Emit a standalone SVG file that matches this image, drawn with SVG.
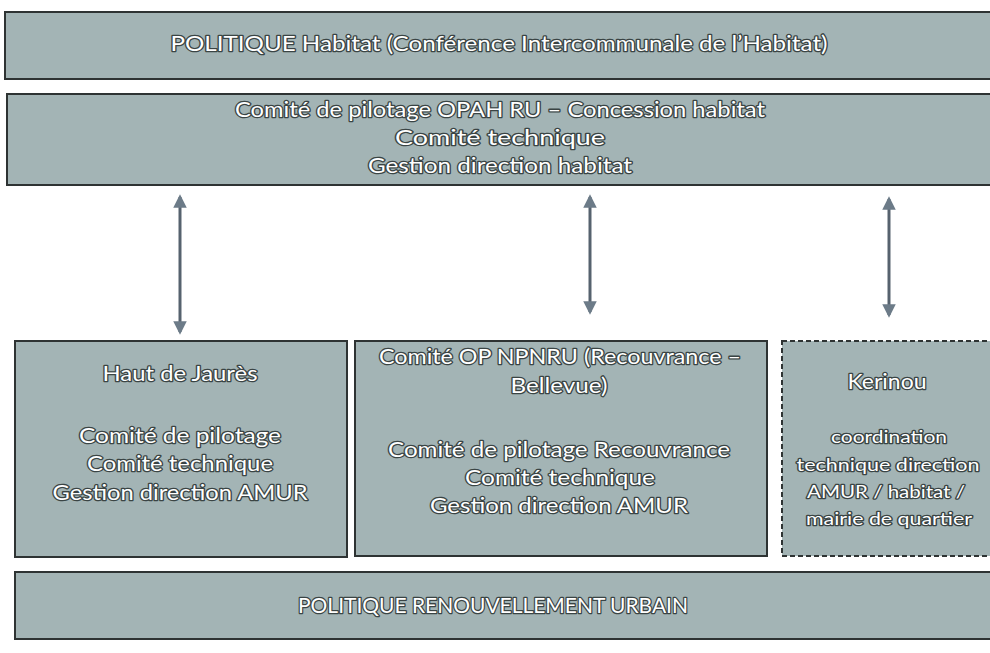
<svg xmlns="http://www.w3.org/2000/svg" width="990" height="653" viewBox="0 0 990 653">
<defs>
<style>
.box{fill:#a3b4b5;stroke:#2e3333;stroke-width:2}
.dash{stroke-dasharray:5 3}
.t{font-family:Lato,"Open Sans",sans-serif;fill:#ffffff;stroke:#3a4444;stroke-width:2.6;paint-order:stroke;stroke-linejoin:round;text-anchor:middle;font-size:22px}
.s{font-size:18px}
.arr{stroke:#56626e;stroke-width:3;fill:none;marker-start:url(#ah);marker-end:url(#ah)}
</style>
<marker id="ah" viewBox="0 0 10 10" refX="8" refY="5" markerWidth="4.5" markerHeight="4.5" orient="auto-start-reverse" markerUnits="strokeWidth">
<path d="M0,0 L10,5 L0,10 z" fill="#6c7b88"/>
</marker>
</defs>
<rect width="990" height="653" fill="#ffffff"/>
<g id="politique-habitat">
<rect class="box" x="5" y="12" width="990" height="67"/>
<text class="t" x="499" y="51" textLength="657" lengthAdjust="spacingAndGlyphs">POLITIQUE Habitat  (Conférence Intercommunale de l’Habitat)</text>
</g>
<g id="comite-opah">
<rect class="box" x="7" y="94" width="990" height="91"/>
<text class="t" x="500" y="117" textLength="530" lengthAdjust="spacingAndGlyphs">Comité de pilotage OPAH RU – Concession habitat</text>
<text class="t" x="500" y="145" textLength="210" lengthAdjust="spacingAndGlyphs">Comité technique</text>
<text class="t" x="500" y="173" textLength="264" lengthAdjust="spacingAndGlyphs">Gestion direction habitat</text>
</g>
<g id="connectors">
<line class="arr" x1="180" y1="197" x2="180" y2="332"/>
<line class="arr" x1="590" y1="197" x2="590" y2="312"/>
<line class="arr" x1="889" y1="199" x2="889" y2="315"/>
</g>
<g id="haut-de-jaures">
<rect class="box" x="15" y="341" width="332" height="216"/>
<text class="t" x="180" y="381" textLength="155" lengthAdjust="spacingAndGlyphs">Haut de Jaurès</text>
<text class="t" x="180" y="443" textLength="202" lengthAdjust="spacingAndGlyphs">Comité de pilotage</text>
<text class="t" x="180" y="471" textLength="186" lengthAdjust="spacingAndGlyphs">Comité technique</text>
<text class="t" x="180" y="500" textLength="255" lengthAdjust="spacingAndGlyphs">Gestion direction AMUR</text>
</g>
<g id="comite-npnru">
<rect class="box" x="355" y="341" width="412" height="215"/>
<text class="t" x="560" y="364" textLength="362" lengthAdjust="spacingAndGlyphs">Comité OP NPNRU (Recouvrance –</text>
<text class="t" x="559" y="393" textLength="97" lengthAdjust="spacingAndGlyphs">Bellevue)</text>
<text class="t" x="559" y="457" textLength="342" lengthAdjust="spacingAndGlyphs">Comité de pilotage Recouvrance</text>
<text class="t" x="560" y="485" textLength="190" lengthAdjust="spacingAndGlyphs">Comité technique</text>
<text class="t" x="559" y="513" textLength="258" lengthAdjust="spacingAndGlyphs">Gestion direction AMUR</text>
</g>
<g id="kerinou">
<rect class="box dash" x="782" y="341" width="215" height="215"/>
<text class="t" x="887" y="389" textLength="79" lengthAdjust="spacingAndGlyphs">Kerinou</text>
<text class="t s" x="889" y="443" textLength="116" lengthAdjust="spacingAndGlyphs">coordination</text>
<text class="t s" x="888" y="471" textLength="183" lengthAdjust="spacingAndGlyphs">technique direction</text>
<text class="t s" x="886" y="498" textLength="158" lengthAdjust="spacingAndGlyphs">AMUR / habitat /</text>
<text class="t s" x="889" y="525" textLength="166" lengthAdjust="spacingAndGlyphs">mairie de quartier</text>
</g>
<g id="politique-renouvellement">
<rect class="box" x="15" y="572" width="982" height="67"/>
<text class="t" x="493" y="613" textLength="390" lengthAdjust="spacingAndGlyphs">POLITIQUE RENOUVELLEMENT URBAIN</text>
</g>
</svg>
